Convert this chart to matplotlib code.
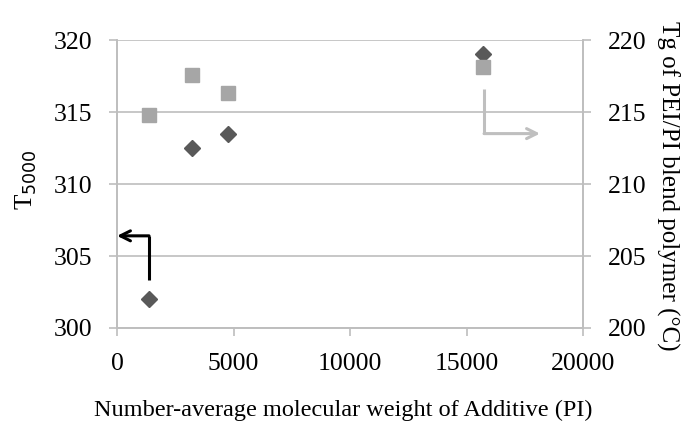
import matplotlib.pyplot as plt
plt.switch_backend('agg')

plt.rcParams['font.family'] = ['Liberation Serif', 'DejaVu Serif']

# data
mw = [1373, 3206, 4750, 15720]
t5000 = [302.0, 312.5, 313.5, 319.0]
tg = [214.8, 217.6, 216.3, 218.15]

xticks = [0, 5000, 10000, 15000, 20000]
yticks_left = [300, 305, 310, 315, 320]
yticks_right = [200, 205, 210, 215, 220]

grid_col = '#BEBEBE'
fs = 18.5

fig = plt.figure(figsize=(6.86, 4.33), dpi=100)
ax = fig.add_axes([0.1706, 0.2425, 0.6794, 0.6651])
ax2 = ax.twinx()

ax.set_xlim(0, 20000)
ax.set_ylim(300, 320)
ax2.set_ylim(200, 220)
ax.set_xticks(xticks)
ax.set_yticks(yticks_left)
ax2.set_yticks(yticks_right)

ax.yaxis.grid(True, color=grid_col, linewidth=1.2)
ax.set_axisbelow(True)

for a in (ax, ax2):
    for side in a.spines:
        a.spines[side].set_color(grid_col)
        a.spines[side].set_linewidth(1.2)
    a.spines['top'].set_visible(False)
    a.tick_params(colors=grid_col, labelcolor='black', labelsize=fs,
                  length=6, width=1.2, pad=12)
ax.tick_params(axis='x', pad=12)

ax.plot(mw, t5000, linestyle='none', marker='D', markersize=8.5,
        color='#595959', clip_on=False, zorder=5)
ax2.plot(mw, tg, linestyle='none', marker='s', markersize=10,
         color='#A6A6A6', clip_on=False, zorder=4)

# arrows showing which axis each series belongs to
ax.plot([1373, 1373], [303.3, 306.4], color='black', linewidth=2.2,
        solid_capstyle='butt')
ax.annotate('', xy=(0, 306.4), xytext=(1373, 306.4),
            arrowprops=dict(arrowstyle='->', color='black', lw=2.2,
                            shrinkA=0, shrinkB=0, mutation_scale=18))
ax.plot([15750, 15750], [316.6, 313.5], color='#BFBFBF', linewidth=2.2,
        solid_capstyle='butt')
ax.annotate('', xy=(18150, 313.5), xytext=(15750, 313.5),
            arrowprops=dict(arrowstyle='->', color='#BFBFBF', lw=2.2,
                            shrinkA=0, shrinkB=0, mutation_scale=18))

fig.text(0.039, 0.585, r'T$_{5000}$', rotation=90, fontsize=18,
         ha='center', va='center')
fig.text(0.974, 0.57, 'Tg of PEI/PI blend polymer (\u00b0C)', rotation=-90,
         fontsize=18, ha='center', va='center')
fig.text(0.50, 0.053, 'Number-average molecular weight of Additive (PI)',
         fontsize=17.5, ha='center', va='center')

plt.savefig('out.png', dpi=100)
